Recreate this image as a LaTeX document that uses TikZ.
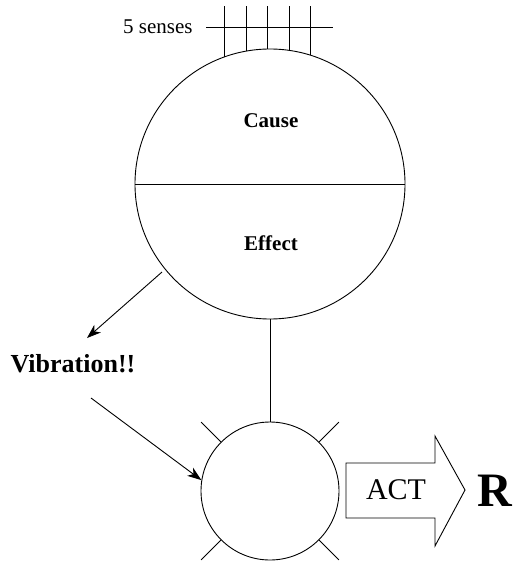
\documentclass[tikz,border=0pt]{standalone}
\usepackage{fontspec}
\setmainfont{Liberation Serif}
\usetikzlibrary{arrows.meta}
\begin{document}
\begin{tikzpicture}[x=1pt,y=-1pt,
  line width=0.9pt,
  ring/.style={draw,circle,inner sep=0pt},
  label/.style={inner sep=0pt},
  pointer/.style={-{Stealth[length=14pt,width=10pt,inset=4pt]}}]
\useasboundingbox (0,0) rectangle (514,562);

% mind: cause over effect
\node[ring,minimum size=270pt] (big) at (270,184) {};
\draw (big.west) -- (big.east);
\node[label,font=\fontsize{21}{24}\selectfont\bfseries] (cause) at (271,121) {Cause};
\node[label,font=\fontsize{21}{24}\selectfont\bfseries] (effect) at (271,243) {Effect};

% the five senses feeding in from above
\node[label,font=\fontsize{21}{24}\selectfont,anchor=east] (senses) at (193,27) {5 senses};
\coordinate (hl) at (206,27);
\coordinate (hr) at (333,27);
\draw (hl) -- (hr);
\foreach \d in {-46,-24,-3,19,40}{
  \pgfmathsetmacro{\yb}{184-10*sqrt(13.5*13.5-(\d/10)*(\d/10))}
  \draw (270+\d,6) -- (270+\d,\yb);
}

% body with its feelers
\node[ring,minimum size=138pt] (small) at (270,491) {};
\draw (big.south) -- (small.north);
\foreach \a in {45,135,225,315}{
  \draw (small.\a) -- ([shift={(\a:28pt)}]small.\a);
}

% vibration path
\node[label,font=\fontsize{26}{30}\selectfont\bfseries] (vib) at (73,364) {Vibration!!};
\coordinate (vstart) at (162,272);
\coordinate (vtip) at (87,338);
\draw[pointer] (vstart) -- (vtip);
\coordinate (wstart) at (91,398);
\draw[pointer] (wstart) -- (small.171);

% action arrow
\draw (346,463) -- (435,463) -- (435,436) -- (465,490) -- (435,546) -- (435,518) -- (346,518) -- cycle;
\node[label,font=\fontsize{30}{34}\selectfont] (act) at (396,490) {ACT};
\node[label,font=\fontsize{48}{52}\selectfont\bfseries] (r) at (495,491) {R};
\end{tikzpicture}
\end{document}
